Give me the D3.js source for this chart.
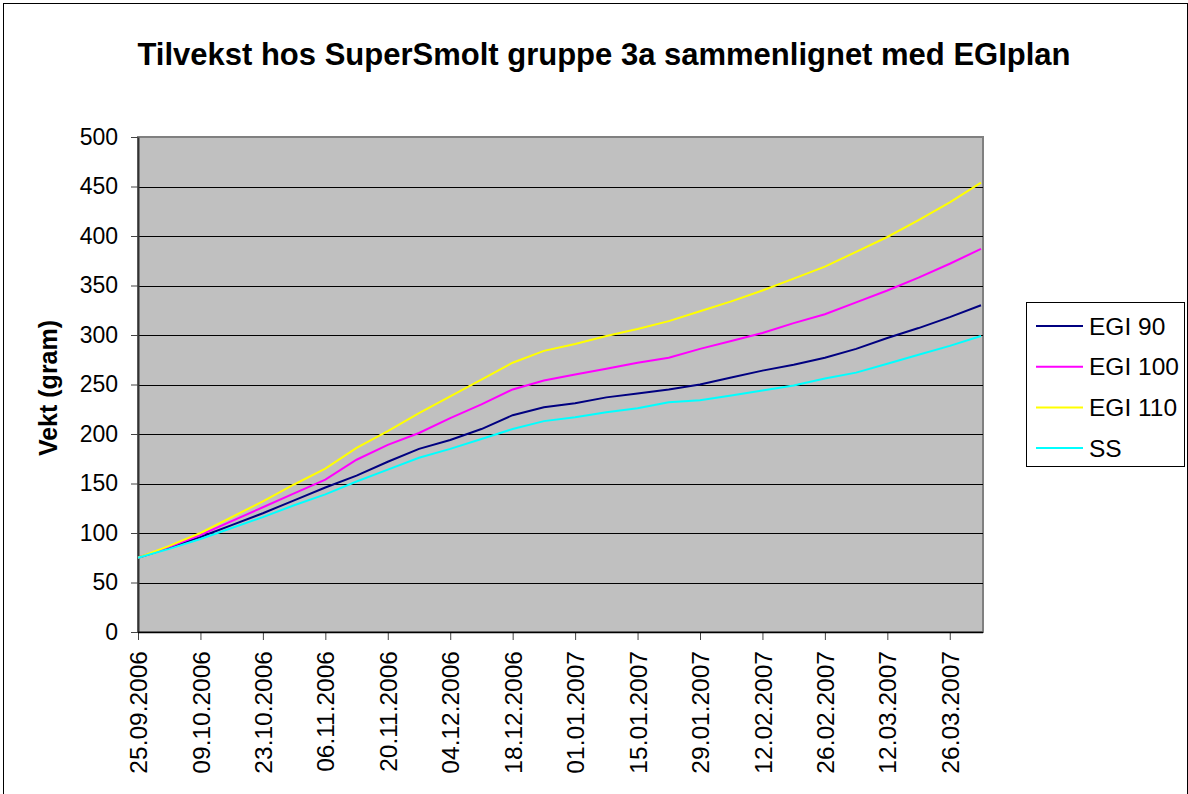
<!DOCTYPE html>
<html>
<head>
<meta charset="utf-8">
<script src="https://cdn.jsdelivr.net/npm/d3@7"></script>
<style>
  body { margin: 0; background: #fff; }
  text { font-family: "Liberation Sans", Arial, sans-serif; }
</style>
</head>
<body>
<div id="chart"></div>
<script>
// page set up
const FRAME_WIDTH = 1188;
const FRAME_HEIGHT = 794;
const PLOT = {left: 138, top: 137, right: 983, bottom: 632};

// data (weekly weighings)
const DATES = ["25.09.2006", "02.10.2006", "09.10.2006", "16.10.2006", "23.10.2006", "30.10.2006",
  "06.11.2006", "13.11.2006", "20.11.2006", "27.11.2006", "04.12.2006", "11.12.2006",
  "18.12.2006", "25.12.2006", "01.01.2007", "08.01.2007", "15.01.2007", "22.01.2007",
  "29.01.2007", "05.02.2007", "12.02.2007", "19.02.2007", "26.02.2007", "05.03.2007",
  "12.03.2007", "19.03.2007", "26.03.2007", "02.04.2007"];

const EGI_90 = [75, 85, 96, 108, 120, 133, 146, 158, 172, 185, 194, 205, 219, 227,
  231, 237, 241, 245, 250, 257, 264, 270, 277, 286, 297, 307, 318, 330];
const EGI_100 = [75, 86, 98, 112, 126, 140, 154, 174, 189, 201, 216, 230, 245, 254,
  260, 266, 272, 277, 286, 294, 302, 312, 321, 333, 345, 358, 372, 387];
const EGI_110 = [75, 87, 100, 116, 132, 149, 165, 186, 203, 221, 238, 255, 272, 284,
  291, 299, 306, 314, 324, 334, 345, 357, 369, 384, 399, 416, 434, 454];
const SS = [75, 84, 94, 105, 116, 128, 139, 152, 164, 176, 185, 195, 205, 213,
  217, 222, 226, 232, 234, 239, 244, 249, 256, 262, 271, 280, 289, 299];

const SERIES_NAMES = ["EGI 90", "EGI 100", "EGI 110", "SS"];
const SERIES_COLORS = ["#000080", "#ff00ff", "#ffff00", "#00ffff"];
const SERIES_VALUES = [EGI_90, EGI_100, EGI_110, SS];

const X_TICKS = ["25.09.2006", "09.10.2006", "23.10.2006", "06.11.2006", "20.11.2006",
  "04.12.2006", "18.12.2006", "01.01.2007", "15.01.2007", "29.01.2007", "12.02.2007",
  "26.02.2007", "12.03.2007", "26.03.2007"];
const Y_TICKS = [0, 50, 100, 150, 200, 250, 300, 350, 400, 450, 500];

const parseDate = d3.utcParse("%d.%m.%Y");

const FRAME = d3.select("#chart")
  .append("svg")
  .attr("width", FRAME_WIDTH)
  .attr("height", FRAME_HEIGHT);

// outer chart border
FRAME.append("rect")
  .attr("x", 3.5).attr("y", 3.5)
  .attr("width", FRAME_WIDTH - 4).attr("height", FRAME_HEIGHT)
  .attr("fill", "#fff").attr("stroke", "#000").attr("stroke-width", 1);

// scales (last weighing sits just inside the right edge of the plot)
const X_SCALE = d3.scaleUtc()
  .domain([parseDate(DATES[0]), parseDate(DATES[DATES.length - 1])])
  .range([PLOT.left, PLOT.right - 2]);

const Y_SCALE = d3.scaleLinear()
  .domain([0, 500])
  .range([PLOT.bottom, PLOT.top]);

// plot area
FRAME.append("rect")
  .attr("x", PLOT.left).attr("y", PLOT.top)
  .attr("width", PLOT.right - PLOT.left)
  .attr("height", PLOT.bottom - PLOT.top)
  .attr("fill", "#c0c0c0")
  .attr("stroke", "#808080").attr("stroke-width", 2);

// gridlines
FRAME.append("g")
  .selectAll("line")
  .data(Y_TICKS.filter(d => d > 0 && d < 500))
  .enter()
  .append("line")
  .attr("x1", PLOT.left).attr("x2", PLOT.right)
  .attr("y1", d => Math.round(Y_SCALE(d)) + 0.5)
  .attr("y2", d => Math.round(Y_SCALE(d)) + 0.5)
  .attr("stroke", "#000").attr("stroke-width", 1.2);

// y axis
const yAxis = FRAME.append("g")
  .attr("transform", "translate(" + PLOT.left + ",0)")
  .call(d3.axisLeft(Y_SCALE).tickValues(Y_TICKS).tickSize(7).tickSizeOuter(0).tickPadding(13));
yAxis.select(".domain").attr("stroke", "#333").attr("stroke-width", 2);
yAxis.selectAll(".tick line").attr("stroke", "#444");
yAxis.selectAll("text")
  .attr("font-size", "23px")
  .attr("fill", "#000")
  .attr("font-family", "Liberation Sans, Arial, sans-serif");

// x axis
const xAxis = FRAME.append("g")
  .attr("transform", "translate(0," + PLOT.bottom + ")")
  .call(d3.axisBottom(X_SCALE)
    .tickValues(X_TICKS.map(parseDate))
    .tickFormat(d3.utcFormat("%d.%m.%Y"))
    .tickSize(8)
    .tickSizeOuter(0));
xAxis.select(".domain").remove();
xAxis.append("line")
  .attr("x1", PLOT.left).attr("x2", PLOT.right)
  .attr("y1", 0.5).attr("y2", 0.5)
  .attr("stroke", "#000").attr("stroke-width", 1.5);
xAxis.selectAll(".tick line").attr("stroke", "#444");
xAxis.selectAll("text")
  .attr("font-size", "24.5px")
  .attr("fill", "#000")
  .attr("font-family", "Liberation Sans, Arial, sans-serif")
  .attr("text-anchor", "end")
  .attr("transform", "rotate(-90)")
  .attr("x", -19)
  .attr("y", 0)
  .attr("dy", "0.35em");

// lines
const line = d3.line()
  .x((d, i) => X_SCALE(parseDate(DATES[i])))
  .y(d => Y_SCALE(d));

FRAME.append("g")
  .selectAll("path")
  .data(SERIES_VALUES)
  .enter()
  .append("path")
  .attr("d", d => line(d))
  .attr("fill", "none")
  .attr("stroke", (d, i) => SERIES_COLORS[i])
  .attr("stroke-width", 2);

// title
FRAME.append("text")
  .attr("x", 604).attr("y", 65)
  .attr("text-anchor", "middle")
  .attr("font-size", "31px")
  .attr("font-weight", "bold")
  .text("Tilvekst hos SuperSmolt gruppe 3a sammenlignet med EGIplan");

// y axis title
FRAME.append("text")
  .attr("transform", "translate(57,388) rotate(-90)")
  .attr("text-anchor", "middle")
  .attr("font-size", "25px")
  .attr("font-weight", "bold")
  .text("Vekt (gram)");

// legend
const LEGEND = FRAME.append("g");
LEGEND.append("rect")
  .attr("x", 1026.5).attr("y", 302.5)
  .attr("width", 158).attr("height", 164)
  .attr("fill", "#fff").attr("stroke", "#000");

const legendRows = LEGEND.selectAll(".row")
  .data(SERIES_NAMES)
  .enter()
  .append("g")
  .attr("class", "row")
  .attr("transform", (d, i) => "translate(0," + (326 + i * 40.7) + ")");

legendRows.append("line")
  .attr("x1", 1036).attr("x2", 1083)
  .attr("y1", 0).attr("y2", 0)
  .attr("stroke", (d, i) => SERIES_COLORS[i])
  .attr("stroke-width", 2);

legendRows.append("text")
  .attr("x", 1089).attr("y", 0)
  .attr("dy", "0.35em")
  .attr("font-size", "24.5px")
  .text(d => d);
</script>
</body>
</html>
